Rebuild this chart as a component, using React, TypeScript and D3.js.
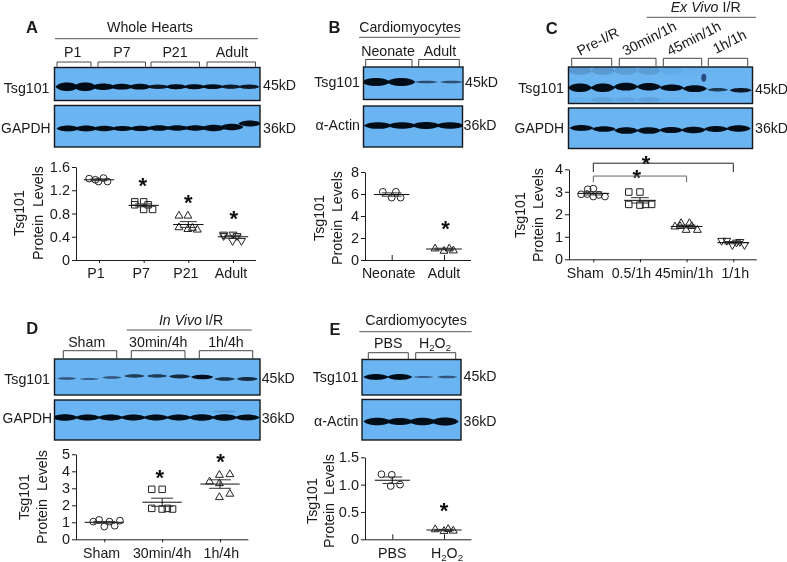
import React, { useEffect, useRef } from "react";
import * as d3 from "d3";

// ---------- Quantified data ----------
const categoriesA = ["P1", "P7", "P21", "Adult"];
const valuesA = [[1.4, 1.35, 1.41, 1.35, 1.38], [1.0, 1.0, 0.95, 0.95, 0.87, 0.87], [0.76, 0.76, 0.56, 0.53, 0.55, 0.52], [0.44, 0.44, 0.415, 0.415, 0.33, 0.33]];
const jitterA = [[-0.22, -0.01, 0.1, 0.19, -0.08], [-0.2, 0, -0.2, 0.1, 0, 0.2], [-0.21, -0.01, -0.21, -0.01, 0.09, 0.2], [-0.21, 0, 0.09, -0.21, -0.01, 0.19]];
const meansA = [1.38, 0.94, 0.61, 0.4];
const semsA = [0.015, 0.025, 0.05, 0.025];
const starsA = [{ at: 0.98, v: 1.36 }, { at: 2, v: 1.07 }, { at: 3.02, v: 0.8 }];

const categoriesB = ["Neonate", "Adult"];
const valuesB = [[6.2, 6.2, 5.67, 5.67], [1.03, 1.03, 0.82, 0.85]];
const jitterB = [[-0.17, 0.08, 0, 0.17], [-0.17, 0.1, 0, 0.18]];
const meansB = [5.95, 1.0];
const semsB = [0.15, 0.07];
const starsB = [{ at: 1.03, v: 3.33 }];

const categoriesC = ["Sham", "0.5/1h", "45min/1h", "1/1h"];
const valuesC = [[3.11, 3.14, 2.89, 2.79, 2.86, 2.79, 2.9], [2.99, 2.99, 2.44, 2.41, 2.44, 2.44], [1.6, 1.6, 1.45, 1.3, 1.3, 1.47, 1.47], [0.83, 0.75, 0.83, 0.64, 0.64, 0.78]];
const jitterC = [[-0.12, 0, -0.26, 0, 0.12, 0.25, -0.13], [-0.24, 0, -0.24, 0, 0.12, 0.25], [-0.12, 0.06, -0.25, -0.01, 0.23, -0.14, 0.11], [-0.14, 0.07, -0.25, -0.02, 0.24, 0.14]];
const meansC = [2.93, 2.62, 1.46, 0.74];
const semsC = [0.07, 0.12, 0.06, 0.05];
const starsC = [{ at: 1.13, v: 4.5 }, { at: 0.93, v: 3.88 }];
const bracketsC = [{ to: 3, top: 4.27, end: 3.88, color: "#222" }, { to: 2, top: 3.7, end: 3.42, color: "#666" }];

const categoriesD = ["Sham", "30min/4h", "1h/4h"];
const valuesD = [[1.04, 1.14, 1.04, 1.1, 0.75, 0.8], [2.94, 2.94, 1.82, 1.78, 1.82, 1.78], [3.78, 3.82, 3.39, 3.29, 2.47, 2.67]];
const jitterD = [[-0.19, -0.09, 0.09, 0.27, 0, 0.18], [-0.18, 0, -0.18, 0, 0.09, 0.18], [-0.01, 0.17, -0.18, -0.01, -0.01, 0.17]];
const meansD = [1.0, 2.18, 3.25];
const semsD = [0.05, 0.24, 0.25];
const starsD = [{ at: 0.96, v: 3.92 }, { at: 2.01, v: 4.86 }];

const categoriesE = ["PBS", "H2O2"];
const valuesE = [[1.19, 1.18, 0.975, 1.0], [0.18, 0.185, 0.15, 0.155]];
const jitterE = [[-0.21, -0.01, -0.03, 0.15], [-0.17, 0.08, 0, 0.18]];
const meansE = [1.08, 0.17];
const semsE = [0.06, 0.012];
const starsE = [{ at: 1.0, v: 0.61 }];

// Band strength per lane of each blot, 0-1
const tsgA = [1, 1, 0.72, 0.62, 0.62, 0.42, 0.5, 0.5, 0.48, 0.4, 0.42];
const gapdhA = [0.62, 0.62, 0.58, 0.5, 0.55, 0.6, 0.58, 0.58, 0.7, 0.72, 0.66];
const driftGapdhA = [0, 0, 0, 0, 0, -0.5, -0.5, -0.5, -0.5, -1.5, -5];
const tsgB = [0.92, 0.92, 0.16, 0.16];
const actinB = [0.75, 0.72, 0.78, 0.72];
const tsgC = [1, 1, 0.9, 0.85, 0.7, 0.75, 0.28, 0.42];
const driftTsgC = [0, 0, -1, -1, 0, 1, 2, 2.5];
const smearTopC = [0.5, 0.5, 0.4, 0.4, 0.15, 0.05, 0, 0];
const smearLowC = [0.08, 0.3, 0.25, 0.35, 0.05, 0, 0, 0];
const speckC = [0, 0, 0, 0, 0, 1.8, 0, 0];
const gapdhC = [0.62, 0.6, 0.75, 0.75, 0.68, 0.72, 0.66, 0.7];
const driftGapdhC = [-2, -1, 0.5, 0.5, 0, 0, -1, -1.5];
const tsgD = [0.14, 0.1, 0.14, 0.26, 0.26, 0.34, 0.45, 0.3, 0.34];
const driftTsgD = [0.5, 1, -0.5, -2, -2, -1.5, -1, 1, 1];
const gapdhD = [0.7, 0.66, 0.66, 0.66, 0.66, 0.66, 0.7, 0.7, 0.62];
const ghostGapdhD = [0, 0, 0, 0.15, 0, 0, 0.12, 0.45, 0.1];
const tsgE = [0.62, 0.62, 0.1, 0.14];
const actinE = [0.85, 0.8, 0.85, 0.95];

// ---------- Helpers ----------
const FONT = "'Liberation Sans', Arial, sans-serif";
const SIZE = 14.2;
const INK = "#1a1a1a";
const symbols: Record<string, any> = {
  circle: d3.symbol(d3.symbolCircle, 36)(),
  square: d3.symbol(d3.symbolSquare, 42)(),
  up: d3.symbol(d3.symbolTriangle, 27)(),
  down: d3.symbol(d3.symbolTriangle, 27)(),
};
const shapesAll = ["circle", "square", "up", "down"];

function Label({ x, y, t, anchor = "start", size = SIZE, bold = false, italic = false, rotate, color = INK }: any) {
  return (
    <text
      x={x} y={y} textAnchor={anchor} fontFamily={FONT} fontSize={size} fontWeight={bold ? 700 : 400}
      fontStyle={italic ? "italic" : "normal"} fill={color} xmlSpace="preserve"
      transform={rotate !== undefined ? `rotate(${rotate} ${x} ${y})` : undefined}
    >
      {rich(t)}
    </text>
  );
}
function rich(t: any) {
  if (t === "H2O2")
    return (
      <>
        H<tspan fontSize={SIZE * 0.68} dy={3}>2</tspan>
        <tspan dy={-3}>O</tspan>
        <tspan fontSize={SIZE * 0.68} dy={3}>2</tspan>
      </>
    );
  return t;
}

function Axes({ x, y, x0, x1, up, ticks, fmt }: any) {
  const gx = useRef<SVGGElement>(null);
  const gy = useRef<SVGGElement>(null);
  useEffect(() => {
    const style = (s: any) => {
      s.selectAll("path,line").attr("stroke", INK).attr("stroke-width", 1);
      s.selectAll("text").attr("font-family", FONT).attr("font-size", 14.5).attr("fill", INK);
    };
    const ax = d3.axisBottom(x).tickSize(up ? -5 : 3).tickSizeOuter(0).tickFormat(() => "");
    d3.select(gx.current!).call(ax as any).call(style);
    d3.select(gx.current!).select(".domain").attr("d", `M${x0},0.5H${x1}`);
    const ay = d3.axisLeft(y).tickValues(ticks).tickFormat(fmt).tickSize(4).tickSizeOuter(0).tickPadding(2);
    d3.select(gy.current!).call(ay as any).call(style);
  }, []);
  return (
    <>
      <g ref={gx} transform={`translate(0,${y.range()[0]})`} />
      <g ref={gy} transform={`translate(${x0},0)`} />
    </>
  );
}

function Plot({ cats, values, jitter, means, sems, stars, shapes, yMax, ticks, fmt, x0, x1, c0, cN, yTop, yBot, up, titleA, titleB, titleY, labelY, labelShift, brackets }: any) {
  const x = d3.scalePoint<string>().domain(cats).range([c0, cN]);
  const step = x.step();
  const y = d3.scaleLinear().domain([0, yMax]).range([yBot, yTop]);
  return (
    <g>
      <Axes x={x} y={y} x0={x0} x1={x1} up={up} ticks={ticks} fmt={fmt} />
      <Label x={titleA} y={titleY} t="Tsg101" anchor="middle" rotate={-90} />
      <Label x={titleB} y={titleY} t="Protein  Levels" anchor="middle" rotate={-90} />
      {cats.map((c: string, i: number) => {
        const cx = x(c)!;
        return (
          <g key={c} fill="none" stroke="#222" strokeWidth={1}>
            {values[i].map((v: number, k: number) => (
              <path key={k} d={symbols[shapes[i]]} transform={`translate(${cx + jitter[i][k] * step},${y(v)})${shapes[i] === "down" ? " rotate(180)" : ""}`} />
            ))}
            <line x1={cx - 0.34 * step} x2={cx + 0.34 * step} y1={y(means[i])} y2={y(means[i])} stroke="#111" />
            <line x1={cx} x2={cx} y1={y(means[i] - sems[i])} y2={y(means[i] + sems[i])} stroke="#111" />
            <line x1={cx - 0.19 * step} x2={cx + 0.19 * step} y1={y(means[i] + sems[i])} y2={y(means[i] + sems[i])} stroke="#333" />
            <line x1={cx - 0.19 * step} x2={cx + 0.19 * step} y1={y(means[i] - sems[i])} y2={y(means[i] - sems[i])} stroke="#333" />
            <g stroke="none">
              <Label x={cx + labelShift[i]} y={labelY} t={c} anchor="middle" />
            </g>
          </g>
        );
      })}
      {stars.map((s: any, i: number) => (
        <text key={i} x={c0 + s.at * step} y={y(s.v) + 12.5} textAnchor="middle" fontFamily={FONT} fontSize={22} fontWeight={700} fill="#111">*</text>
      ))}
      {brackets &&
        brackets.map((b: any, i: number) => {
          const a = c0;
          const e = c0 + b.to * step;
          return <path key={i} fill="none" stroke={b.color} strokeWidth={1} d={d3.line()([[a, y(b.end)], [a, y(b.top)], [e, y(b.top)], [e, y(b.end)]]) as string} />;
        })}
    </g>
  );
}

function lens(cx: number, cy: number, w: number, t: number) {
  const p = d3.path();
  p.moveTo(cx - w / 2, cy);
  p.bezierCurveTo(cx - w / 3, cy - t * 1.35, cx + w / 3, cy - t * 1.35, cx + w / 2, cy);
  p.bezierCurveTo(cx + w / 3, cy + t * 1.35, cx - w / 3, cy + t * 1.35, cx - w / 2, cy);
  p.closePath();
  return p.toString();
}

function Blot({ x, y, w, h, first, last, bandY, strengths, drift, width, fill = "#6ab5f1", extras = [] }: any) {
  const lanes = strengths.map((_: number, i: number) => i);
  const sx = d3.scalePoint<number>().domain(lanes).range([first, last]);
  const clip = `clip${Math.round(x)}_${Math.round(y)}`;
  return (
    <g>
      <clipPath id={clip}><rect x={x} y={y} width={w} height={h} /></clipPath>
      <rect x={x} y={y} width={w} height={h} fill={fill} />
      <g clipPath={`url(#${clip})`} filter="url(#soft)">
        {extras.map((ex: any, j: number) =>
          ex.strengths.map((s: number, i: number) => (
            <ellipse key={`${j}-${i}`} cx={sx(i)! + (ex.dx || 0)} cy={bandY + ex.offset} rx={ex.rx || width / 2} ry={ex.ry} fill="#2a4a80" opacity={s * 0.55} />
          ))
        )}
        {strengths.map((s: number, i: number) => (
          <path
            key={i} d={lens(sx(i)!, bandY + (drift ? drift[i] : 0), width * (0.8 + 0.25 * Math.min(1, s * 1.5)), 0.7 + 3.5 * s)}
            fill="#060a18" opacity={Math.min(1, 0.35 + s * 1.4)}
          />
        ))}
      </g>
      <rect x={x} y={y} width={w} height={h} fill="none" stroke="#15181c" strokeWidth={1.4} />
    </g>
  );
}

function Brackets({ spans, top, bottom }: any) {
  return (
    <g fill="none" stroke="#333" strokeWidth={0.9}>
      {spans.map((s: number[], i: number) => (
        <path key={i} d={`M${s[0]},${bottom}V${top}H${s[1]}V${bottom}`} />
      ))}
    </g>
  );
}

const Rule = ({ x1, x2, y }: any) => <line x1={x1} x2={x2} y1={y} y2={y} stroke="#555" strokeWidth={1} />;

export default function App() {
  const f1 = (d: number) => (d === 0 ? "0" : d3.format(".1f")(d));
  const f0 = (d: number) => String(d);
  return (
    <svg width={787} height={562} viewBox="0 0 787 562" style={{ position: "absolute", left: 0, top: 0, background: "#fff" }}>
      <defs>
        <filter id="soft" x="-5%" y="-5%" width="110%" height="110%"><feGaussianBlur stdDeviation="0.7" /></filter>
        <filter id="scan" x="0" y="0" width="100%" height="100%"><feGaussianBlur stdDeviation="0.3" /></filter>
      </defs>
      <g filter="url(#scan)">

      {/* A */}
      <Label x={32} y={33} t="A" anchor="middle" size={16.5} bold />
      <Label x={150} y={32} t="Whole Hearts" anchor="middle" />
      <Rule x1={55} x2={258} y={38.7} />
      <Label x={72.7} y={57} t="P1" anchor="middle" />
      <Label x={122} y={57} t="P7" anchor="middle" />
      <Label x={175} y={57} t="P21" anchor="middle" />
      <Label x={232} y={57} t="Adult" anchor="middle" />
      <Brackets spans={[[57, 91], [98, 145.5], [151, 199.5], [207, 255.5]]} top={62} bottom={66.7} />
      <Blot x={54.5} y={67.5} w={205.5} h={33} first={67} last={249} bandY={86.7} strengths={tsgA} width={22} />
      <Blot x={54.5} y={105.5} w={205.5} h={41.5} first={68} last={250} bandY={128.5} strengths={gapdhA} drift={driftGapdhA} width={22} />
      <Label x={49.5} y={92.5} t="Tsg101" anchor="end" />
      <Label x={50.5} y={133} t="GAPDH" anchor="end" size={13.9} />
      <Label x={263} y={89.5} t="45kD" />
      <Label x={263} y={133} t="36kD" />
      <Plot cats={categoriesA} values={valuesA} jitter={jitterA} means={meansA} sems={semsA} stars={starsA} shapes={shapesAll} yMax={1.6} ticks={[0, 0.4, 0.8, 1.2, 1.6]} fmt={f1}
        x0={76} x1={256} c0={99} cN={233} yTop={167} yBot={260} titleA={24} titleB={42.5} titleY={213} labelY={277.5} labelShift={[-3, -2.5, -2.5, -2]} />

      {/* B */}
      <Label x={334.5} y={33} t="B" anchor="middle" size={16.5} bold />
      <Label x={410} y={32} t="Cardiomyocytes" anchor="middle" />
      <Rule x1={359} x2={460} y={37.3} />
      <Label x={388} y={55.7} t="Neonate" anchor="middle" />
      <Label x={440} y={55.7} t="Adult" anchor="middle" />
      <Brackets spans={[[365.7, 412], [418.7, 459.3]]} top={59.5} bottom={66.7} />
      <Blot x={363.5} y={67} w={99.5} h={32.5} first={376} last={451.5} bandY={82} strengths={tsgB} width={27} />
      <Blot x={363.5} y={106} w={99} h={41} first={378} last={450} bandY={125.5} strengths={actinB} width={27} />
      <Label x={360} y={87} t="Tsg101" anchor="end" />
      <Label x={360} y={130} t="α-Actin" anchor="end" />
      <Label x={465} y={86.5} t="45kD" />
      <Label x={463.5} y={130} t="36kD" />
      <Plot cats={categoriesB} values={valuesB} jitter={jitterB} means={meansB} sems={semsB} stars={starsB} shapes={["circle", "up"]} yMax={8} ticks={[0, 2, 4, 6, 8]} fmt={f0}
        x0={365} x1={471} c0={391.7} cN={444} yTop={172} yBot={260} up titleA={323.5} titleB={341.7} titleY={218} labelY={277.5} labelShift={[-3, 0]} />

      {/* C */}
      <Label x={551.7} y={34} t="C" anchor="middle" size={16.5} bold />
      <Label x={718.5} y={12} t="Ex Vivo" anchor="end" italic />
      <Label x={722.5} y={12} t="I/R" />
      <Rule x1={646.7} x2={756} y={17.3} />
      <Label x={580} y={56} t="Pre-I/R" rotate={-27} />
      <Label x={625.5} y={56} t="30min/1h" rotate={-27} />
      <Label x={670} y={56} t="45min/1h" rotate={-27} />
      <Label x={716} y={54} t="1h/1h" rotate={-27} />
      <Brackets spans={[[571.7, 611.7], [619.3, 656], [663.3, 701.7], [708.3, 747.7]]} top={58.3} bottom={66} />
      <Blot x={568.5} y={67} w={184} h={36.5} first={580} last={740.7} bandY={87.7} strengths={tsgC} drift={driftTsgC} width={23}
        extras={[{ offset: -17, ry: 4, strengths: smearTopC }, { offset: 12, ry: 2.5, strengths: smearLowC }, { offset: -10, ry: 4, rx: 2.5, dx: 9, strengths: speckC }]} />
      <Blot x={568.5} y={108} w={184} h={40.5} first={581.5} last={738.5} bandY={130} strengths={gapdhC} drift={driftGapdhC} width={23} />
      <Label x={564} y={93} t="Tsg101" anchor="end" />
      <Label x={564} y={133} t="GAPDH" anchor="end" size={13.9} />
      <Label x={755} y={94} t="45kD" />
      <Label x={755} y={132.5} t="36kD" />
      <Plot cats={categoriesC} values={valuesC} jitter={jitterC} means={meansC} sems={semsC} stars={starsC} shapes={shapesAll} yMax={4} ticks={[0, 1, 2, 3, 4]} fmt={f0}
        x0={569} x1={756.7} c0={593.3} cN={733.3} yTop={169.3} yBot={259.3} titleA={525} titleB={543.3} titleY={215} labelY={277.5} brackets={bracketsC} labelShift={[-8, -8.5, -2.5, 2]} />

      {/* D */}
      <Label x={32.3} y={334} t="D" anchor="middle" size={16.5} bold />
      <Label x={202} y={325} t="In Vivo" anchor="end" italic />
      <Label x={205} y={325} t="I/R" />
      <Rule x1={126.7} x2={251.7} y={330} />
      <Label x={86.7} y={346.7} t="Sham" anchor="middle" />
      <Label x={158.3} y={346.7} t="30min/4h" anchor="middle" />
      <Label x={226} y={346.7} t="1h/4h" anchor="middle" />
      <Brackets spans={[[63.3, 116.7], [131.3, 185], [199.3, 252.7]]} top={350.7} bottom={358.3} />
      <Blot x={54.5} y={359} w={205.5} h={36} first={66.7} last={247.3} bandY={378} strengths={tsgD} drift={driftTsgD} width={23} />
      <Blot x={54.5} y={400} w={205.5} h={40} first={65} last={247.3} bandY={417.5} strengths={gapdhD} width={24}
        extras={[{ offset: -6, ry: 1, strengths: ghostGapdhD }]} />
      <Label x={50} y={383.5} t="Tsg101" anchor="end" />
      <Label x={52} y={423} t="GAPDH" anchor="end" size={13.9} />
      <Label x={261.7} y={383} t="45kD" />
      <Label x={261.7} y={422.5} t="36kD" />
      <Plot cats={categoriesD} values={valuesD} jitter={jitterD} means={meansD} sems={semsD} stars={starsD} shapes={["circle", "square", "up"]} yMax={5} ticks={[0, 1, 2, 3, 4, 5]} fmt={f0}
        x0={76} x1={248.3} c0={104.3} cN={220} yTop={454.3} yBot={539.3} titleA={29.3} titleB={47.3} titleY={497} labelY={557.5} labelShift={[-2.7, 0, 1.3]} />

      {/* E */}
      <Label x={335} y={334.5} t="E" anchor="middle" size={16.5} bold />
      <Label x={416} y={325} t="Cardiomyocytes" anchor="middle" />
      <Rule x1={359.3} x2={471.7} y={331.7} />
      <Label x={388.3} y={348} t="PBS" anchor="middle" />
      <Label x={435} y={348} t="H2O2" anchor="middle" />
      <Brackets spans={[[368.3, 408.3], [415.7, 455.7]]} top={352.7} bottom={359} />
      <Blot x={362} y={359.5} w={99} h={35.5} first={376} last={447.3} bandY={377} strengths={tsgE} width={24} />
      <Blot x={362} y={399.5} w={99} h={40.5} first={377.3} last={445} bandY={421.5} strengths={actinE} width={26} />
      <Label x={358.5} y={381.5} t="Tsg101" anchor="end" />
      <Label x={358.5} y={426} t="α-Actin" anchor="end" />
      <Label x={463.5} y={380.5} t="45kD" />
      <Label x={463.5} y={426} t="36kD" />
      <Plot cats={categoriesE} values={valuesE} jitter={jitterE} means={meansE} sems={semsE} stars={starsE} shapes={["circle", "up"]} yMax={1.5} ticks={[0, 0.5, 1, 1.5]} fmt={f1}
        x0={365} x1={471.3} c0={392.3} cN={444} yTop={457.3} yBot={539.3} up titleA={316.7} titleB={334.3} titleY={501} labelY={557.5} labelShift={[0, 3]} />
      </g>
    </svg>
  );
}
